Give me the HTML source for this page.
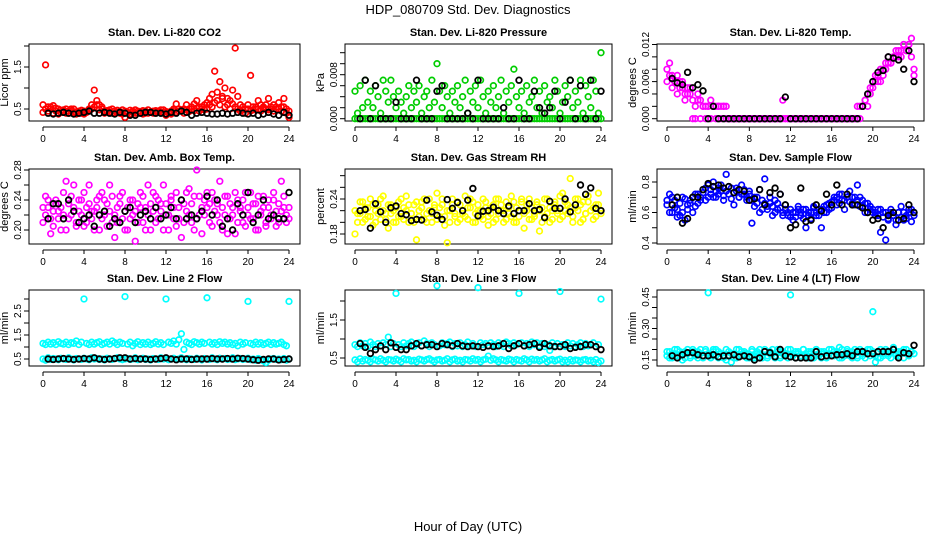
<!DOCTYPE html>
<html><head><meta charset="utf-8"><style>
html,body{margin:0;padding:0;background:#fff;}
svg{display:block;font-family:"Liberation Sans",Arial,sans-serif;}
</style></head><body>
<svg id="chart" width="936" height="540" viewBox="0 0 936 540" xmlns="http://www.w3.org/2000/svg">
<text x="468" y="14" text-anchor="middle" font-size="13">HDP_080709  Std. Dev. Diagnostics</text>
<text x="468" y="531" text-anchor="middle" font-size="13">Hour of Day (UTC)</text>
</svg>
<script>
const xTicks = [0,4,8,12,16,20,24];
const co2A = [0.6,1.55,0.55,0.5,0.58,0.45,0.5,0.42,0.48,0.4,0.45,0.5,0.42,0.38,0.45,0.4,0.45,0.42,0.5,0.6,0.95,0.7,0.6,0.55,0.45,0.42,0.48,0.4,0.45,0.42,0.4,0.48,0.3,0.42,0.38,0.45,0.4,0.45,0.42,0.38,0.45,0.4,0.42,0.45,0.4,0.45,0.48,0.42,0.35,0.42,0.45,0.5,0.62,0.45,0.48,0.5,0.6,0.5,0.55,0.62,0.7,0.55,0.5,0.6,0.65,0.75,0.85,1.4,0.9,1.15,0.8,1.0,0.75,0.7,0.95,1.95,0.8,0.6,0.55,0.5,0.6,1.3,0.55,0.5,0.7,0.6,0.55,0.5,0.75,0.55,0.6,0.5,0.65,0.55,0.75,0.5,0.3];
const co2B = [0.42,0.5,0.45,0.55,0.4,0.52,0.38,0.47,0.44,0.5,0.4,0.46,0.5,0.43,0.4,0.47,0.38,0.44,0.48,0.5,0.55,0.6,0.48,0.5,0.4,0.46,0.43,0.5,0.4,0.47,0.44,0.38,0.45,0.4,0.47,0.42,0.48,0.4,0.44,0.46,0.4,0.48,0.43,0.4,0.46,0.42,0.4,0.48,0.44,0.4,0.38,0.46,0.42,0.5,0.45,0.4,0.48,0.44,0.5,0.46,0.52,0.45,0.55,0.48,0.5,0.6,0.55,0.65,0.7,0.6,0.75,0.55,0.6,0.5,0.62,0.55,0.5,0.45,0.48,0.4,0.5,0.45,0.48,0.55,0.5,0.45,0.52,0.6,0.48,0.5,0.45,0.55,0.5,0.45,0.55,0.4,0.45];
const co2K = [0.4,0.38,0.4,0.42,0.4,0.38,0.4,0.42,0.45,0.4,0.4,0.42,0.4,0.38,0.42,0.4,0.35,0.35,0.4,0.42,0.42,0.4,0.4,0.38,0.42,0.4,0.45,0.42,0.35,0.4,0.42,0.4,0.38,0.38,0.4,0.38,0.4,0.42,0.4,0.38,0.4,0.35,0.38,0.42,0.38,0.35,0.42,0.35];
const presA = [0.005,0.001,0.006,0.002,0.007,0.003,0.005,0.002,0.006,0.004,0.001,0.007,0.005,0.003,0.007,0.004,0.002,0.005,0.003,0.001,0.004,0.006,0.002,0.005,0.003,0.006,0.001,0.004,0.005,0.002,0.007,0.003,0.010,0.005,0.002,0.006,0.004,0.001,0.005,0.003,0.006,0.002,0.004,0.007,0.001,0.005,0.003,0.006,0.002,0.007,0.004,0.001,0.005,0.003,0.006,0.002,0.004,0.007,0.001,0.005,0.003,0.006,0.009,0.004,0.002,0.005,0.001,0.006,0.003,0.004,0.007,0.002,0.005,0.001,0.006,0.003,0.004,0.002,0.007,0.005,0.001,0.003,0.006,0.004,0.007,0.002,0.005,0.003,0.007,0.001,0.006,0.004,0.002,0.007,0.005,0.001,0.012];
const presB = [0,0,0,0,0,0,0,0,0,0,0,0,0,0,0,0,0,0,0,0,0,0,0,0,0,0,0,0,0,0,0,0,0,0,0,0,0,0,0,0,0,0,0,0,0,0,0,0,0,0,0,0,0,0,0,0,0,0,0,0,0,0,0,0,0,0,0,0,0,0,0,0,0,0,0,0,0,0,0,0,0,0,0,0,0,0,0,0,0,0,0,0,0,0,0,0,0];
const presK = [0,0.007,0,0.006,0,0,0,0.003,0,0,0,0.007,0,0,0,0.005,0.006,0,0,0,0,0.001,0,0.007,0,0,0,0,0.002,0,0,0.007,0,0,0.005,0.002,0.001,0.002,0.005,0,0.003,0.007,0,0.006,0,0.007,0,0.005];
const tempA = [0.008,0.009,0.007,0.006,0.007,0.005,0.006,0.004,0.005,0.004,0.003,0.002,0.004,0.003,0.002,0.002,0.002,0.003,0.002,0.002,0.002,0.002,0.002,0.002,
0,0,0,0,0,0,0,0,0,0,0,0,0,0,0,0,0,0,0,0,0,0.003,0,0,0,0,0,0,0,0,0,0,0,0,0,0,0,0,0,0,0,0,0,0,0,0,0,0,0,0,
0.002,0.002,0.002,0.003,0.004,0.005,0.006,0.007,0.006,0.008,0.007,0.009,0.010,0.009,0.010,0.011,0.010,0.011,0.012,0.011,0.012,0.013,0.008];
const tempB = [0.006,0.007,0.005,0.006,0.004,0.006,0.005,0.003,0.004,0.005,0,0,0.003,0,0.002,0,0.002,0,0.002,0,0.002,0,0.002,0,
0,0,0,0,0,0,0,0,0,0,0,0,0,0,0,0,0,0,0,0,0,0,0,0,0,0,0,0,0,0,0,0,0,0,0,0,0,0,0,0,0,0,0,0,0,0,0,0,0,0,0,0,
0.002,0.003,0.002,0.004,0.005,0.006,0.007,0.006,0.008,0.008,0.009,0.009,0.010,0.010,0.011,0.010,0.012,0.011,0.012,0.010,0.007];
const tempK = [0.0065,0.0058,0.0055,0.0075,0.005,0.0055,0.0045,0,0.002,0,0,0,0,0,0,0,0,0,0,0,0,0,0.0035,0,0,0,0,0,0,0,0,0,0,0,0,0,0,0.002,0.004,0.006,0.0075,0.0078,0.010,0.0098,0.0095,0.008,0.011,0.006];
const ambA = [0.21,0.245,0.23,0.195,0.225,0.24,0.215,0.23,0.25,0.2,0.235,0.22,0.26,0.21,0.225,0.24,0.205,0.23,0.26,0.215,0.225,0.24,0.2,0.25,0.22,0.235,0.26,0.21,0.19,0.23,0.245,0.215,0.225,0.2,0.24,0.22,0.185,0.235,0.25,0.21,0.23,0.26,0.2,0.225,0.245,0.215,0.235,0.26,0.22,0.2,0.24,0.23,0.25,0.215,0.19,0.235,0.225,0.255,0.21,0.245,0.28,0.22,0.195,0.24,0.23,0.21,0.25,0.225,0.235,0.265,0.2,0.22,0.245,0.215,0.23,0.195,0.24,0.225,0.21,0.25,0.23,0.215,0.235,0.2,0.245,0.22,0.23,0.205,0.24,0.215,0.25,0.225,0.21,0.265,0.23,0.22,0.215];
const ambB = [0.23,0.22,0.24,0.215,0.205,0.235,0.225,0.2,0.22,0.265,0.215,0.245,0.23,0.205,0.24,0.22,0.25,0.21,0.235,0.225,0.2,0.23,0.245,0.215,0.24,0.205,0.225,0.245,0.22,0.21,0.235,0.25,0.2,0.23,0.215,0.24,0.225,0.21,0.23,0.245,0.2,0.22,0.235,0.25,0.21,0.24,0.225,0.2,0.235,0.22,0.245,0.215,0.205,0.23,0.24,0.21,0.25,0.22,0.235,0.2,0.215,0.245,0.23,0.22,0.25,0.235,0.205,0.24,0.22,0.21,0.23,0.245,0.195,0.235,0.22,0.25,0.21,0.23,0.24,0.205,0.22,0.25,0.215,0.235,0.2,0.225,0.245,0.21,0.23,0.22,0.24,0.205,0.235,0.225,0.245,0.21,0.23];
const ambK = [0.215,0.235,0.235,0.215,0.24,0.225,0.21,0.215,0.22,0.205,0.22,0.225,0.205,0.215,0.21,0.225,0.23,0.21,0.22,0.225,0.215,0.23,0.215,0.22,0.23,0.215,0.24,0.215,0.22,0.215,0.225,0.245,0.22,0.24,0.205,0.215,0.2,0.235,0.22,0.25,0.21,0.22,0.24,0.215,0.22,0.215,0.215,0.25];
const rhA = [0.18,0.215,0.235,0.2,0.225,0.21,0.24,0.195,0.22,0.23,0.205,0.245,0.215,0.19,0.23,0.22,0.2,0.235,0.21,0.225,0.245,0.2,0.215,0.23,0.17,0.22,0.235,0.205,0.215,0.24,0.2,0.225,0.25,0.21,0.23,0.195,0.165,0.22,0.24,0.21,0.2,0.23,0.215,0.245,0.205,0.225,0.235,0.2,0.22,0.21,0.24,0.225,0.195,0.215,0.23,0.205,0.24,0.22,0.2,0.235,0.215,0.245,0.2,0.225,0.21,0.235,0.19,0.22,0.24,0.205,0.215,0.23,0.185,0.225,0.21,0.24,0.2,0.22,0.235,0.215,0.205,0.25,0.22,0.23,0.275,0.21,0.225,0.24,0.2,0.235,0.215,0.245,0.22,0.205,0.23,0.25,0.215];
const rhB = [0.22,0.2,0.215,0.235,0.205,0.225,0.21,0.23,0.2,0.215,0.24,0.22,0.205,0.23,0.215,0.2,0.225,0.21,0.24,0.205,0.22,0.23,0.215,0.2,0.235,0.21,0.225,0.24,0.2,0.22,0.215,0.23,0.205,0.225,0.24,0.21,0.22,0.2,0.23,0.215,0.235,0.205,0.22,0.21,0.225,0.24,0.2,0.215,0.23,0.22,0.205,0.235,0.21,0.225,0.2,0.24,0.215,0.23,0.22,0.205,0.225,0.21,0.235,0.2,0.22,0.24,0.215,0.23,0.205,0.225,0.21,0.235,0.22,0.2,0.24,0.215,0.225,0.205,0.23,0.22,0.245,0.21,0.235,0.215,0.225,0.2,0.24,0.22,0.23,0.205,0.215,0.235,0.22,0.225,0.21,0.23,0.22];
const rhK = [0.22,0.222,0.19,0.232,0.218,0.2,0.225,0.228,0.215,0.213,0.203,0.205,0.204,0.238,0.218,0.212,0.205,0.239,0.224,0.234,0.22,0.238,0.258,0.211,0.219,0.22,0.226,0.22,0.215,0.228,0.215,0.22,0.22,0.232,0.22,0.222,0.208,0.236,0.224,0.224,0.24,0.218,0.23,0.264,0.248,0.259,0.224,0.22];
const sfA = [0.65,0.72,0.6,0.68,0.62,0.58,0.7,0.55,0.65,0.68,0.6,0.72,0.66,0.7,0.75,0.68,0.78,0.72,0.8,0.7,0.76,0.74,0.68,0.85,0.72,0.76,0.65,0.74,0.7,0.78,0.72,0.68,0.74,0.53,0.7,0.66,0.75,0.62,0.82,0.64,0.7,0.58,0.68,0.62,0.72,0.6,0.65,0.58,0.62,0.55,0.6,0.64,0.58,0.62,0.5,0.6,0.56,0.64,0.58,0.62,0.5,0.6,0.65,0.62,0.67,0.7,0.65,0.72,0.68,0.62,0.7,0.74,0.66,0.7,0.78,0.64,0.68,0.6,0.66,0.62,0.6,0.58,0.62,0.47,0.6,0.42,0.55,0.62,0.58,0.52,0.6,0.64,0.55,0.58,0.62,0.54,0.6];
const sfB = [0.68,0.6,0.7,0.63,0.57,0.66,0.6,0.69,0.62,0.66,0.7,0.64,0.72,0.68,0.73,0.76,0.7,0.75,0.7,0.74,0.72,0.78,0.71,0.74,0.77,0.69,0.73,0.76,0.7,0.72,0.75,0.7,0.72,0.68,0.64,0.7,0.6,0.68,0.66,0.62,0.66,0.64,0.6,0.66,0.63,0.58,0.62,0.6,0.57,0.6,0.57,0.62,0.6,0.56,0.62,0.58,0.6,0.63,0.6,0.58,0.62,0.64,0.6,0.66,0.63,0.68,0.7,0.66,0.72,0.68,0.7,0.67,0.7,0.65,0.68,0.7,0.64,0.66,0.6,0.64,0.62,0.6,0.58,0.62,0.57,0.6,0.56,0.6,0.58,0.55,0.6,0.57,0.6,0.56,0.6,0.62,0.58];
const sfK = [0.65,0.7,0.53,0.56,0.7,0.7,0.75,0.79,0.77,0.78,0.76,0.77,0.73,0.75,0.74,0.68,0.69,0.75,0.65,0.73,0.76,0.72,0.65,0.5,0.52,0.76,0.54,0.55,0.65,0.61,0.72,0.65,0.78,0.65,0.72,0.65,0.65,0.63,0.6,0.55,0.56,0.5,0.58,0.6,0.55,0.56,0.65,0.6];
const l2A = [1.15,1.1,1.2,1.12,1.18,1.1,1.22,1.15,1.12,1.2,1.1,1.18,1.15,1.25,1.1,1.2,3.0,1.15,1.1,1.2,1.12,1.18,1.22,1.1,1.15,1.2,1.12,1.25,1.18,1.1,1.2,1.15,3.1,1.12,1.2,1.05,1.15,1.22,1.1,1.18,1.12,1.2,1.1,1.15,1.22,1.12,1.18,1.1,3.0,1.2,1.15,1.25,1.12,1.3,1.55,0.9,1.2,1.15,1.1,1.22,1.18,1.12,1.2,1.15,3.05,1.2,1.12,1.18,1.1,1.22,1.15,1.2,1.12,1.18,1.1,1.15,1.05,1.2,1.12,1.18,2.9,1.15,1.1,1.2,1.12,1.18,1.1,1.15,1.2,1.1,1.18,1.12,1.15,1.2,1.1,1.05,2.9];
const l2B = [0.5,0.45,0.55,0.48,0.52,0.5,0.47,0.53,0.5,0.48,0.55,0.5,0.46,0.52,0.5,0.48,0.53,0.5,0.47,0.55,0.5,0.52,0.48,0.5,0.46,0.53,0.5,0.48,0.52,0.55,0.5,0.47,0.5,0.52,0.48,0.5,0.55,0.47,0.5,0.53,0.48,0.5,0.46,0.52,0.5,0.48,0.55,0.5,0.52,0.47,0.5,0.53,0.48,0.5,0.55,0.5,0.47,0.52,0.5,0.48,0.53,0.5,0.46,0.52,0.5,0.48,0.55,0.5,0.47,0.53,0.5,0.52,0.48,0.5,0.55,0.47,0.5,0.52,0.48,0.5,0.53,0.47,0.5,0.45,0.52,0.48,0.42,0.35,0.45,0.5,0.52,0.48,0.5,0.47,0.52,0.45,0.5];
const l2K = [0.5,0.48,0.5,0.52,0.5,0.48,0.5,0.52,0.5,0.55,0.5,0.48,0.5,0.52,0.55,0.55,0.5,0.52,0.5,0.5,0.48,0.5,0.52,0.55,0.5,0.47,0.5,0.5,0.48,0.5,0.5,0.5,0.52,0.5,0.5,0.52,0.5,0.53,0.52,0.5,0.47,0.45,0.48,0.5,0.5,0.46,0.48,0.5];
const l3A = [0.85,0.8,0.9,0.82,0.88,0.8,0.92,0.85,0.8,0.88,0.82,0.9,0.85,1.05,0.8,0.88,2.2,0.85,0.8,0.9,0.82,0.88,0.92,0.8,0.85,0.9,0.82,0.95,0.88,0.8,0.9,0.85,2.4,0.82,0.9,0.85,0.88,0.92,0.8,0.88,0.82,0.9,0.8,0.85,0.92,0.82,0.88,0.8,2.35,0.9,0.85,0.88,0.82,0.9,0.85,0.8,0.9,0.85,0.8,0.92,0.88,0.82,0.9,0.85,2.2,0.9,0.82,0.88,0.8,0.92,0.85,0.9,0.82,0.88,0.8,0.85,0.7,0.9,0.82,0.88,2.25,0.85,0.8,0.9,0.82,0.88,0.8,0.85,0.9,0.8,0.88,0.82,0.85,0.9,0.8,0.85,2.05];
const l3B = [0.45,0.4,0.48,0.42,0.46,0.44,0.4,0.47,0.45,0.42,0.48,0.44,0.4,0.46,0.45,0.42,0.47,0.44,0.4,0.48,0.45,0.46,0.42,0.44,0.4,0.47,0.45,0.42,0.46,0.48,0.44,0.4,0.45,0.46,0.42,0.44,0.48,0.4,0.45,0.47,0.42,0.44,0.4,0.46,0.45,0.42,0.48,0.44,0.46,0.4,0.45,0.47,0.55,0.44,0.48,0.45,0.4,0.46,0.44,0.42,0.47,0.45,0.4,0.46,0.44,0.42,0.48,0.45,0.4,0.47,0.44,0.46,0.42,0.45,0.48,0.4,0.44,0.46,0.42,0.45,0.47,0.4,0.44,0.4,0.46,0.42,0.45,0.44,0.4,0.45,0.46,0.42,0.44,0.4,0.46,0.38,0.42];
const l3K = [0.88,0.78,0.62,0.72,0.82,0.72,0.9,0.78,0.72,0.72,0.82,0.88,0.82,0.85,0.85,0.8,0.88,0.85,0.82,0.88,0.82,0.8,0.82,0.8,0.78,0.82,0.8,0.82,0.88,0.75,0.82,0.88,0.82,0.85,0.88,0.78,0.88,0.82,0.8,0.8,0.85,0.75,0.78,0.8,0.85,0.85,0.8,0.72];
const l4A = [0.17,0.19,0.16,0.18,0.2,0.17,0.15,0.19,0.18,0.16,0.2,0.17,0.19,0.18,0.16,0.2,0.47,0.17,0.19,0.2,0.16,0.18,0.17,0.15,0.19,0.18,0.16,0.2,0.17,0.19,0.18,0.16,0.17,0.19,0.16,0.18,0.2,0.17,0.19,0.16,0.18,0.2,0.17,0.19,0.16,0.18,0.17,0.2,0.46,0.18,0.16,0.19,0.17,0.2,0.18,0.16,0.19,0.17,0.2,0.18,0.16,0.19,0.17,0.18,0.2,0.17,0.19,0.21,0.16,0.18,0.2,0.17,0.19,0.18,0.16,0.2,0.17,0.19,0.18,0.2,0.38,0.17,0.19,0.16,0.18,0.2,0.17,0.19,0.21,0.18,0.17,0.19,0.2,0.18,0.17,0.19,0.18];
const l4B = [0.19,0.16,0.18,0.2,0.17,0.19,0.18,0.16,0.2,0.17,0.19,0.18,0.16,0.2,0.17,0.19,0.18,0.16,0.2,0.17,0.19,0.18,0.16,0.2,0.17,0.14,0.18,0.16,0.2,0.17,0.19,0.18,0.16,0.2,0.17,0.19,0.18,0.16,0.2,0.17,0.19,0.18,0.16,0.2,0.17,0.19,0.18,0.16,0.2,0.17,0.19,0.18,0.16,0.2,0.17,0.19,0.18,0.16,0.2,0.17,0.19,0.18,0.16,0.2,0.17,0.19,0.18,0.16,0.2,0.17,0.19,0.18,0.16,0.2,0.17,0.19,0.18,0.16,0.2,0.17,0.19,0.14,0.16,0.2,0.17,0.19,0.18,0.16,0.2,0.17,0.19,0.18,0.16,0.2,0.17,0.19,0.18];
const l4K = [0.17,0.16,0.175,0.185,0.185,0.175,0.17,0.17,0.175,0.165,0.17,0.17,0.175,0.165,0.17,0.165,0.15,0.16,0.19,0.185,0.165,0.2,0.17,0.165,0.16,0.16,0.16,0.16,0.19,0.165,0.17,0.17,0.175,0.175,0.18,0.17,0.19,0.19,0.18,0.18,0.19,0.19,0.19,0.2,0.16,0.185,0.18,0.22];

const cols=[{L:29,R:300,x0:43,x24:289},{L:345,R:612,x0:355,x24:601},{L:657,R:924,x0:667,x24:914}];
const rows=[{T:44,B:121},{T:169,B:244},{T:290,B:366}];
const panels=[
 {name:'co2',title:'Stan. Dev. Li-820 CO2',ylab:'Licor ppm',color:'#ff0000',series:[co2B,co2A],black:co2K,cal:[0.5,109,1.5,67],ticks:[0.5,1,1.5,2],labels:['0.5','','1.5','']},
 {name:'pressure',title:'Stan. Dev. Li-820 Pressure',ylab:'kPa',color:'#00cd00',series:[presB,presA],black:presK,cal:[0,118.7,0.008,74.7],ticks:[0,0.002,0.004,0.006,0.008,0.01,0.012],labels:['0.000','','','','0.008','','']},
 {name:'li820-temp',title:'Stan. Dev. Li-820 Temp.',ylab:'degrees C',color:'#ff00ff',series:[tempB,tempA],black:tempK,cal:[0,118.7,0.012,44.5],ticks:[0,0.002,0.004,0.006,0.008,0.01,0.012],labels:['0.000','','','0.006','','','0.012']},
 {name:'amb-box-temp',title:'Stan. Dev. Amb. Box Temp.',ylab:'degrees C',color:'#ff00ff',series:[ambB,ambA],black:ambK,cal:[0.2,230,0.28,170],ticks:[0.2,0.22,0.24,0.26,0.28],labels:['0.20','','0.24','','0.28']},
 {name:'gas-stream-rh',title:'Stan. Dev. Gas Stream RH',ylab:'percent',color:'#ffff00',series:[rhB,rhA],black:rhK,cal:[0.18,234,0.24,199],ticks:[0.18,0.2,0.22,0.24,0.26,0.28],labels:['0.18','','','0.24','','']},
 {name:'sample-flow',title:'Stan. Dev. Sample Flow',ylab:'ml/min',color:'#0000ff',series:[sfB,sfA],black:sfK,cal:[0.4,243,0.8,182],ticks:[0.4,0.5,0.6,0.7,0.8],labels:['0.4','','0.6','','0.8']},
 {name:'line2-flow',title:'Stan. Dev. Line 2 Flow',ylab:'ml/min',color:'#00ffff',series:[l2B,l2A],black:l2K,cal:[0.5,359,2.5,311],ticks:[0.5,1,1.5,2,2.5,3],labels:['0.5','','1.5','','2.5','']},
 {name:'line3-flow',title:'Stan. Dev. Line 3 Flow',ylab:'ml/min',color:'#00ffff',series:[l3B,l3A],black:l3K,cal:[0.5,358,1.5,320],ticks:[0.5,1,1.5,2],labels:['0.5','','1.5','']},
 {name:'line4-flow',title:'Stan. Dev. Line 4 (LT) Flow',ylab:'ml/min',color:'#00ffff',series:[l4B,l4A],black:l4K,cal:[0.15,360,0.45,297],ticks:[0.15,0.2,0.25,0.3,0.35,0.4,0.45],labels:['0.15','','','0.30','','','0.45']}
];
const NS='http://www.w3.org/2000/svg';
const svg=document.getElementById('chart');
function mk(tag,attrs,parent){const e=document.createElementNS(NS,tag);for(const k in attrs)e.setAttribute(k,attrs[k]);(parent||svg).appendChild(e);return e;}
panels.forEach((p,pi)=>{
  const c=cols[pi%3], r=rows[Math.floor(pi/3)];
  const g=mk('g',{});
  
  
  const xs=h=>c.x0+(c.x24-c.x0)*h/24;
  const ys=v=>p.cal[1]+(v-p.cal[0])*(p.cal[3]-p.cal[1])/(p.cal[2]-p.cal[0]);
  const t=mk('text',{x:(c.L+c.R)/2,y:r.T-8,'text-anchor':'middle','font-size':'11','font-weight':'bold'},g);
  t.textContent=p.title;
  
  
  const box=mk('rect',{x:c.L,y:r.T,width:c.R-c.L,height:r.B-r.T,fill:'none',stroke:'#000','stroke-width':1},g);
  
  
  const xa=mk('g',{},g);
  
  
  const ay=r.B+6;
  mk('line',{x1:xs(0),x2:xs(24),y1:ay,y2:ay,stroke:'#000'},xa);
  xTicks.forEach(h=>{
    mk('line',{x1:xs(h),x2:xs(h),y1:ay,y2:ay+4,stroke:'#000'},xa);
    const tl=mk('text',{x:xs(h),y:ay+15,'text-anchor':'middle','font-size':'10'},xa);
    tl.textContent=String(h);
    
    
  });
  const ya=mk('g',{},g);
  
  
  p.ticks.forEach((v,i)=>{
    const y=ys(v);
    mk('line',{x1:c.L-5,x2:c.L,y1:y,y2:y,stroke:'#000'},ya);
    if(p.labels[i]){
      const tl=mk('text',{x:c.L-8,y:y,'text-anchor':'middle','font-size':'10',transform:`rotate(-90 ${c.L-8} ${y})`},ya);
      tl.textContent=p.labels[i];
      
      
    }
  });
  const yl=mk('text',{x:c.L-21,y:(r.T+r.B)/2,'text-anchor':'middle','font-size':'11',transform:`rotate(-90 ${c.L-21} ${(r.T+r.B)/2})`},g);
  yl.textContent=p.ylab;
  
  
  p.series.forEach((arr,si)=>{
    const sg=mk('g',{fill:'none',stroke:p.color,'stroke-width':1.7},g);
    
    
    arr.forEach((v,i)=>{
      const pt=mk('circle',{cx:xs(i/4),cy:ys(v),r:2.8},sg);
      
      
    });
  });
  const bg=mk('g',{fill:'none',stroke:'#000','stroke-width':1.8},g);
  
  
  p.black.forEach((v,i)=>{
    const pt=mk('circle',{cx:xs((i+1)/2),cy:ys(v),r:2.8},bg);
    
    
  });
});
</script>
</body></html>
